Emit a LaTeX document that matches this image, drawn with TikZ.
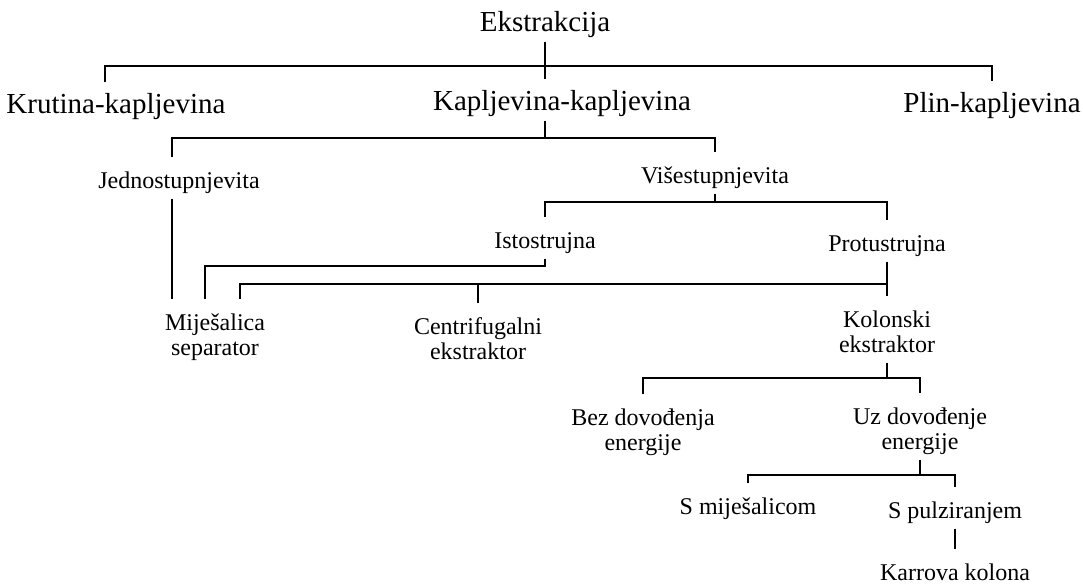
\documentclass[tikz,border=0pt]{standalone}
\usepackage{fontspec}
\setmainfont{Liberation Serif}
\usepackage{tikz}
\newcommand{\topstrut}{\rule{0pt}{14pt}}
\newcommand{\botstrut}{\rule[-4pt]{0pt}{4pt}}

\begin{document}
\begin{tikzpicture}[x=0.5pt, y=-0.5pt, line width=0.7pt,
  every node/.style={inner sep=1pt, font=\fontsize{12}{12.5}\selectfont},
  oneline/.style={text height=14pt, text depth=4pt},
  mainline/.style={oneline, font=\fontsize{14.5}{16}\selectfont},
  twoline/.style={align=center}]
  \useasboundingbox (0,0) rectangle (1083,586);

  \node[mainline] (ekstr) at (545,21) {Ekstrakcija};
  \node[mainline] (kruti) at (116,103) {Krutina-kapljevina};
  \node[mainline] (kapkap) at (562,100) {Kapljevina-kapljevina};
  \node[mainline] (plin) at (992,102) {Plin-kapljevina};
  \node[oneline] (jedn) at (179,178) {Jednostupnjevita};
  \node[oneline] (vises) at (715,173) {Višestupnjevita};
  \node[oneline] (isto) at (545,238) {Istostrujna};
  \node[oneline] (protu) at (887,241) {Protustrujna};
  \node[twoline] (mijes) at (215,332.5) {\topstrut Miješalica\\separator\botstrut};
  \node[twoline] (centr) at (478,336.5) {\topstrut Centrifugalni\\ekstraktor\botstrut};
  \node[twoline] (kolon) at (887,329.5) {\topstrut Kolonski\\ekstraktor\botstrut};
  \node[twoline] (bezdo) at (643,427.5) {\topstrut Bez dovođenja\\energije\botstrut};
  \node[twoline] (uzdo) at (920,426.5) {\topstrut Uz dovođenje\\energije\botstrut};
  \node[oneline] (smije) at (748,504) {S miješalicom};
  \node[oneline] (spulz) at (955,508) {S pulziranjem};
  \node[oneline] (karr) at (955,570) {Karrova kolona};

  \coordinate (forkA) at (545,66);
  \coordinate (forkB) at (545,138);
  \coordinate (forkC) at (715,202);
  \coordinate (forkD) at (545,266);
  \coordinate (forkE) at (887,284);
  \coordinate (forkF) at (887,378);
  \coordinate (forkG) at (920,475);

  \draw (ekstr.south) -- (ekstr.south |- kapkap.north);
  \draw ([xshift=-5.5pt]kruti.north) |- (forkA) -| (plin.north);
  \draw ([xshift=-8.5pt]kapkap.south) -- (forkB);
  \draw ([xshift=-3.5pt]jedn.north) |- (forkB) -| (vises.north);
  \draw (vises.south) -- (forkC);
  \draw (isto.north) |- (forkC) -| (protu.north);
  \draw ([xshift=-3.5pt]jedn.south) -- ([xshift=-3.5pt]jedn.south |- mijes.north);
  \draw (isto.south) -- (forkD) -| ([xshift=-5pt]mijes.north);
  \draw (protu.south) -- (kolon.north);
  \draw (forkE) -| ([xshift=12.5pt]mijes.north);
  \draw (centr.north) -- (centr.north |- forkE);
  \draw (kolon.south) -- (forkF);
  \draw (bezdo.north) |- (forkF) -| (uzdo.north);
  \draw (uzdo.south) -- (forkG);
  \draw (smije.north) |- (forkG) -| (spulz.north);
  \draw (spulz.south) -- (karr.north);
\end{tikzpicture}
\end{document}
